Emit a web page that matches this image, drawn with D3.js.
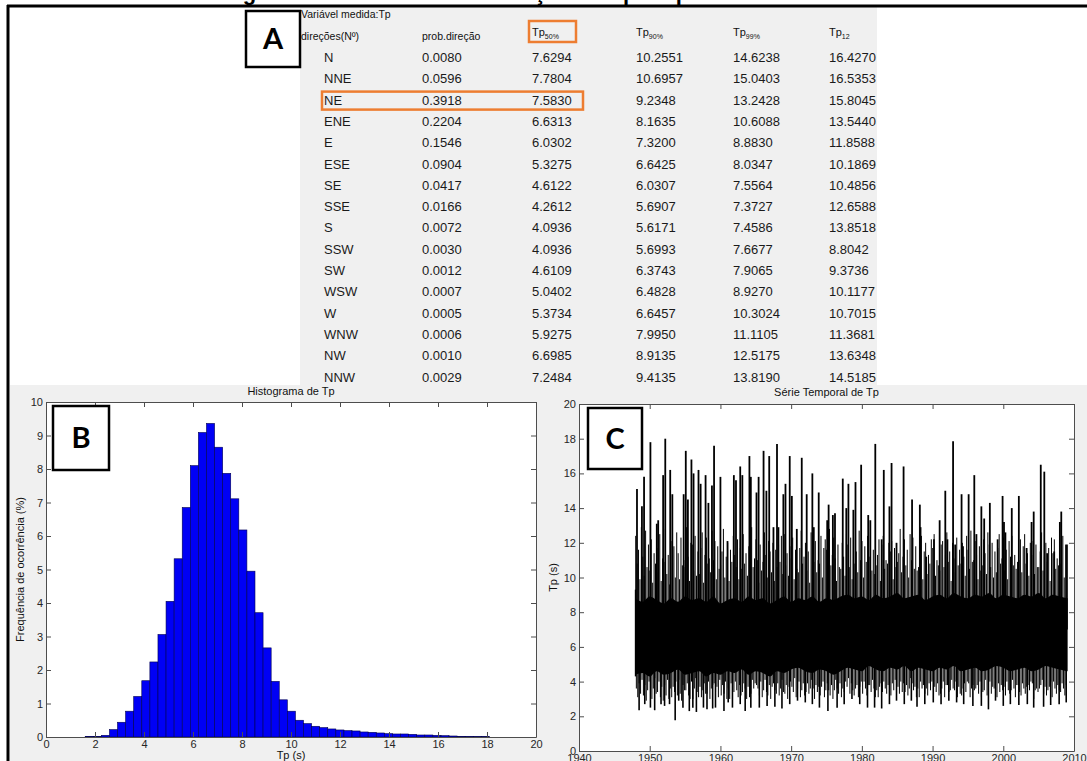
<!DOCTYPE html>
<html><head><meta charset="utf-8">
<script src="https://cdn.jsdelivr.net/npm/d3@7"></script>
<style>
body{margin:0;background:#fff;}
svg{display:block;font-family:"Liberation Sans",Arial,sans-serif;}
</style>
</head><body>
<svg id="fig" width="1087" height="761"></svg>
<script>
// ---------------- DATA ----------------
const directions = ["N","NNE","NE","ENE","E","ESE","SE","SSE","S","SSW","SW","WSW","W","WNW","NW","NNW"];
const probDirecao = [0.0080,0.0596,0.3918,0.2204,0.1546,0.0904,0.0417,0.0166,0.0072,0.0030,0.0012,0.0007,0.0005,0.0006,0.0010,0.0029];
const tp50 = [7.6294,7.7804,7.5830,6.6313,6.0302,5.3275,4.6122,4.2612,4.0936,4.0936,4.6109,5.0402,5.3734,5.9275,6.6985,7.2484];
const tp90 = [10.2551,10.6957,9.2348,8.1635,7.3200,6.6425,6.0307,5.6907,5.6171,5.6993,6.3743,6.4828,6.6457,7.9950,8.9135,9.4135];
const tp99 = [14.6238,15.0403,13.2428,10.6088,8.8830,8.0347,7.5564,7.3727,7.4586,7.6677,7.9065,8.9270,10.3024,11.1105,12.5175,13.8190];
const tp12 = [16.4270,16.5353,15.8045,13.5440,11.8588,10.1869,10.4856,12.6588,13.8518,8.8042,9.3736,10.1177,10.7015,11.3681,13.6348,14.5185];
const tableHeaders = ["direções(Nº)","prob.direção","50%","90%","99%","12"];

// histogram (Tp bins, frequency %)
const histStart = 1.6, histBinWidth = 0.33;
const histFreq = [0.02,0.02,0.05,0.22,0.44,0.77,1.21,1.68,2.24,3.06,4.05,5.32,6.85,8.10,9.09,9.36,8.65,7.87,7.11,6.18,
  4.95,3.71,2.66,1.66,1.11,0.77,0.50,0.40,0.32,0.28,0.24,0.21,0.19,0.18,0.15,0.14,0.12,0.10,0.09,0.09,
  0.08,0.06,0.06,0.05,0.04,0.03,0.02,0.015,0.01,0.01];
const histXTicks = [0,2,4,6,8,10,12,14,16,18,20];
const histYTicks = [0,1,2,3,4,5,6,7,8,9,10];

// time series: tall spikes (year, Tp)
const peakYears = [1948.2,1948.9,1949.2,1950.1,1951.0,1951.2,1951.9,1952.2,1952.9,1953.2,1954.8,1955.1,1955.4,1955.9,1956.2,1956.9,1957.2,1957.9,1958.3,1958.8,
  1959.1,1960.0,1961.0,1961.9,1962.2,1962.8,1963.1,1964.1,1964.3,1965.1,1965.4,1966.1,1966.5,1966.9,1967.5,1968.0,1968.2,1968.9,1969.2,1969.8,
  1970.1,1970.8,1971.5,1972.2,1973.0,1973.2,1973.9,1975.1,1975.3,1975.9,1976.2,1977.3,1977.8,1978.1,1978.8,1979.1,1979.9,1980.9,1981.2,1981.9,
  1982.8,1983.1,1983.9,1984.2,1984.9,1985.9,1987.1,1988.2,1988.3,1989.1,1990.2,1991.0,1991.8,1992.1,1992.9,1993.2,1994.1,1994.3,1995.1,1995.9,
  1996.2,1996.9,1997.3,1998.1,1999.2,1999.9,2000.1,2000.3,2001.2,2002.2,2003.3,2004.0,2004.3,2005.3,2005.8,2006.2,2007.2,2008.0,2008.2,2009.0];
const peakValues = [15.1,14.1,15.8,17.8,13.1,13.3,15.9,18.0,16.2,14.8,14.8,17.3,14.5,16.8,16.0,16.2,15.4,15.9,14.3,15.3,
  17.6,15.8,12.1,15.9,15.6,16.4,15.9,17.0,15.8,14.9,15.8,17.3,15.0,17.0,12.9,17.7,12.9,14.8,15.4,17.0,
  14.7,12.8,16.9,14.8,16.0,12.9,14.9,13.3,14.2,13.6,13.7,15.7,14.0,15.4,13.9,15.5,16.5,13.6,13.3,17.7,
  12.2,16.2,14.1,16.6,12.0,16.4,14.5,14.2,12.9,11.2,12.2,13.3,15.0,12.2,17.85,11.9,14.8,11.8,14.8,15.9,
  12.5,14.1,13.4,14.3,12.2,14.7,13.2,12.6,14.0,14.7,11.7,13.2,13.8,16.5,16.1,11.4,11.5,13.2,13.8,11.9];

// deep minima (year, Tp)
const troughYears = [1948.5,1949.3,1950.1,1950.7,1951.6,1952.1,1952.8,1953.6,1954.1,1954.7,1955.6,1956.1,1956.6,1957.6,1958.1,1958.9,1959.3,1960.5,1961.1,1961.7,
  1962.8,1963.5,1964.3,1965.5,1966.6,1967.7,1968.7,1969.8,1970.9,1972.0,1973.0,1974.0,1975.2,1976.5,1977.5,1978.6,1979.7,1980.8,1981.8,1982.8,
  1983.9,1984.9,1986.0,1987.0,1987.8,1988.9,1990.1,1991.2,1992.3,1993.4,1994.4,1995.7,1996.9,1997.9,1998.9,2000.0,2001.0,2002.2,2003.4,2004.3,
  2005.7,2006.7,2007.9,2008.9];
const troughValues = [2.35,2.7,2.5,2.35,2.7,2.6,2.7,1.77,2.9,2.5,2.3,2.5,2.25,2.5,2.4,2.45,2.5,2.3,2.8,2.5,
  2.7,2.3,2.5,2.5,2.6,2.55,2.45,2.7,2.9,2.8,2.7,2.5,2.3,2.5,2.7,3.0,2.7,2.5,2.5,2.45,
  2.7,2.9,2.7,2.9,2.55,2.7,2.8,2.7,2.9,2.8,2.7,2.6,2.6,2.4,2.9,2.6,2.7,2.65,2.7,2.5,
  2.55,2.65,2.7,2.8];

// secondary maxima, five per year 1948-2008
const secondaryHighs = `12.4 10.8 11.6 9.9 12.9 11.2 10.1 12.7 10.6 11.9 10.4 12.2 9.7 11.4 10.8 11.7 10.3 12.5 9.8 11.1
10.9 12.8 10.2 11.3 9.6 12.1 10.5 11.8 10.0 12.6 11.4 9.9 12.3 10.7 11.0 10.6 12.9 11.2 9.8 12.0
11.9 10.4 12.4 10.1 11.5 10.2 11.7 12.6 9.7 11.3 12.3 10.8 11.1 10.3 12.7 11.0 12.1 9.9 11.8 10.5
10.7 11.5 12.8 10.0 11.2 12.0 9.8 11.6 10.9 12.4 11.3 10.6 12.2 9.9 11.7 10.5 12.5 10.8 11.4 10.1
11.8 10.2 12.9 10.6 11.1 12.2 11.0 9.7 11.9 10.4 10.9 12.6 11.3 10.0 12.1 11.5 10.3 12.0 9.8 11.6
10.6 11.9 10.9 12.4 10.2 12.5 10.7 11.4 10.1 11.8 11.1 12.3 9.9 11.6 10.5 10.3 11.7 12.7 10.8 11.2
12.0 10.4 11.5 9.7 12.6 11.4 10.9 12.1 10.3 11.0 10.8 12.4 10.0 11.7 12.2 11.6 10.2 12.8 10.7 11.3
12.3 11.1 9.8 11.9 10.6 10.5 12.0 11.2 10.1 12.5 11.9 10.6 12.3 9.9 11.4 10.8 11.5 10.3 12.7 11.0
12.1 10.0 11.8 10.9 12.4 11.2 12.6 10.4 11.6 10.2 10.7 11.3 12.2 9.8 11.9 12.4 10.5 11.0 10.8 12.0
11.5 12.1 9.9 11.7 10.6 10.9 11.4 12.8 10.3 11.2 12.2 10.7 11.6 10.0 12.5 11.0 12.3 10.5 11.8 10.4
10.6 11.1 12.4 9.9 11.5 12.0 10.2 11.3 10.8 12.2 11.7 12.5 10.1 11.0 10.7 10.4 11.9 12.1 10.6 11.3
12.6 10.9 11.5 9.8 12.0 11.1 10.3 12.3 10.7 11.6 10.8 12.0 11.2 10.1 12.4 11.6 10.5 12.7 10.9 11.0
12.1 11.3 9.9 11.8 10.4 10.7 12.2 11.4 10.2 12.6 11.9 10.6 12.0 10.0 11.5 10.3 11.7 12.5 10.8 11.1
12.3 10.4 11.6 9.9 12.1 11.2 12.4 10.7 11.3 10.5 10.9 11.0 12.2 10.3 11.8 12.5 10.8 11.4 10.1 12.0
11.3 12.1 10.2 11.9 10.6 10.6 11.5 12.6 10.4 11.2 12.0 10.9 11.7 9.8 12.3 11.4 12.2 10.5 11.1 10.7
10.8 11.6 12.4 10.0 11.9`.trim().split(/\s+/).map(Number);

// secondary minima, five per year 1948-2008
const secondaryLows = `3.6 3.1 3.9 3.3 4.1 3.2 3.8 2.9 3.5 4.0 3.9 3.0 3.6 4.2 3.3 3.4 4.0 3.1 3.7 2.9
3.8 3.2 4.1 3.0 3.6 3.1 3.7 3.4 4.0 3.2 4.1 3.3 2.9 3.8 3.5 3.5 3.9 3.2 3.0 4.0
3.0 3.6 4.2 3.4 3.1 3.7 3.1 3.5 3.9 3.3 3.3 4.0 3.0 3.6 3.8 3.9 3.4 3.7 3.1 4.1
3.2 3.8 3.3 4.0 3.0 3.6 3.0 3.9 3.5 3.4 4.0 3.5 3.1 3.8 3.2 3.4 3.9 3.6 3.0 3.7
3.1 3.3 4.1 3.6 3.9 3.8 3.6 3.2 4.0 3.1 3.5 4.1 3.4 3.2 3.8 3.0 3.7 3.9 3.5 3.3
3.9 3.2 3.6 4.1 3.4 3.3 3.8 3.0 3.7 4.0 3.7 3.4 4.2 3.1 3.6 4.0 3.1 3.5 3.9 3.2
3.4 3.9 3.3 3.6 4.1 3.6 3.0 3.8 3.4 3.7 3.2 3.7 4.0 3.1 3.5 3.9 3.5 3.2 3.8 3.0
3.5 4.1 3.6 3.3 3.9 3.1 3.6 3.4 4.0 3.7 4.2 3.3 3.9 3.5 3.2 3.6 3.8 3.1 3.7 4.0
3.3 4.0 3.6 3.2 3.8 3.8 3.4 4.1 3.6 3.1 3.5 3.1 3.7 3.9 3.4 4.0 3.6 3.3 3.8 3.5
3.2 3.9 3.5 4.1 3.7 3.7 3.3 4.0 3.4 3.9 3.4 3.8 3.2 3.6 4.2 3.9 3.5 3.7 3.1 3.6
3.1 4.0 3.6 3.8 3.3 3.6 3.2 3.9 3.5 4.0 4.1 3.7 3.4 3.9 3.2 3.3 3.6 4.0 3.1 3.8
3.8 3.4 3.5 4.1 3.6 3.5 4.0 3.1 3.7 3.3 3.2 3.6 3.9 3.4 4.0 3.9 3.1 3.6 3.8 3.5
3.6 3.8 3.3 4.0 3.1 3.4 3.5 4.1 3.2 3.7 4.0 3.3 3.7 3.6 3.9 3.1 3.9 3.4 3.8 3.5
3.7 3.2 4.0 3.5 3.3 3.5 4.1 3.6 3.1 3.8 3.8 3.4 3.2 3.9 3.6 3.3 3.7 3.8 3.5 4.0
3.9 3.0 3.5 3.6 3.4 3.6 3.8 4.1 3.3 3.7 3.2 3.5 3.7 4.0 3.1 4.0 3.6 3.3 3.8 3.5
3.4 3.9 3.6 3.2 3.8`.trim().split(/\s+/).map(Number);

// dense core of the series (per year 1948-2009): lower and upper edge
const coreLow = [4.4,4.5,4.3,4.6,4.4,4.5,4.7,4.4,4.5,4.6,4.3,4.5,4.4,4.6,4.5,4.7,4.4,4.6,4.5,4.3,4.6,4.5,4.7,4.8,4.6,4.5,4.7,4.6,4.4,4.6,4.8,4.7,4.6,4.9,4.7,4.6,4.8,4.7,4.9,4.6,4.8,4.7,4.6,4.8,4.7,4.9,4.6,4.7,4.8,4.6,4.7,4.9,4.8,4.6,4.7,4.8,4.6,4.7,4.9,4.8,4.7,4.6];
const coreHigh = [8.8,8.6,8.9,8.7,8.5,8.8,8.6,8.9,8.7,8.8,8.6,8.9,8.5,8.7,8.8,8.6,8.9,8.7,8.8,8.5,8.7,8.9,8.6,8.8,8.7,8.9,8.6,8.8,8.7,8.9,9.0,8.8,8.9,8.7,9.0,8.8,8.9,9.1,8.8,8.9,9.0,8.7,8.9,9.0,8.8,9.1,8.9,8.8,9.0,8.9,9.1,8.8,9.0,8.9,8.8,9.0,8.9,9.1,8.8,9.0,8.9,8.8];
const seriesStart = 1948.0, seriesEnd = 2009.1;
const tsXTicks = [1940,1950,1960,1970,1980,1990,2000,2010];
const tsYTicks = [0,2,4,6,8,10,12,14,16,18,20];

// ---------------- DRAW ----------------
const svg = d3.select("#fig");
const FIGBG = "#f0f0f0", ORANGE = "#ed7d31", AXC = "#4d4d4d", TXT = "#262626";

// backgrounds
svg.append("rect").attr("x",0).attr("y",0).attr("width",1087).attr("height",761).attr("fill","#fff");
svg.append("rect").attr("x",300).attr("y",7).attr("width",577).attr("height",378).attr("fill",FIGBG);
svg.append("rect").attr("x",10).attr("y",385).attr("width",1077).attr("height",376).attr("fill",FIGBG);

// page title, cut off at the top edge: only its descenders show above the rule
svg.append("defs").append("clipPath").attr("id","topclip").append("rect").attr("x",0).attr("y",0).attr("width",1087).attr("height",5);
svg.append("text").attr("clip-path","url(#topclip)").attr("x",480).attr("y",-0.5)
  .attr("text-anchor","middle").attr("font-size",22).attr("font-weight","bold").attr("fill","#000")
  .text("Figura 3 – Estatísticas da direção de Tp no ponto");

// frame rules
svg.append("line").attr("x1",7).attr("x2",1087).attr("y1",6).attr("y2",6).attr("stroke","#000").attr("stroke-width",3);
svg.append("line").attr("x1",8).attr("x2",8).attr("y1",5).attr("y2",761).attr("stroke","#000").attr("stroke-width",3);

// ---------- Panel A: table ----------
const colX = d3.scaleOrdinal().domain(["dir","prob","p50","p90","p99","p12"]).range([324,422,532,636,733,829]);
const rowY = d3.scalePoint().domain(directions).range([62,381.5]);
const tbl = svg.append("g");
tbl.append("text").attr("x",301).attr("y",18).attr("font-size",10.5).attr("fill","#111").text("Variável medida:Tp");
tbl.append("text").attr("x",301).attr("y",40).attr("font-size",10.5).attr("fill","#111").text(tableHeaders[0]);
tbl.append("text").attr("x",colX("prob")).attr("y",40).attr("font-size",10.5).attr("fill","#111").text(tableHeaders[1]);
["p50","p90","p99","p12"].forEach((k,i)=>{
  const t = tbl.append("text").attr("x",colX(k)).attr("y",36).attr("font-size",11).attr("fill","#111");
  t.append("tspan").text("Tp");
  t.append("tspan").attr("font-size",7).attr("dy",2.5).text(tableHeaders[i+2]);
});
const fmt4 = d3.format(".4f");
directions.forEach((d,i)=>{
  const y = rowY(d);
  const vals = [["dir",d],["prob",fmt4(probDirecao[i])],["p50",fmt4(tp50[i])],["p90",fmt4(tp90[i])],["p99",fmt4(tp99[i])],["p12",fmt4(tp12[i])]];
  vals.forEach(([k,v])=>{
    tbl.append("text").attr("x",colX(k)).attr("y",y).attr("font-size",13).attr("fill","#1a1a1a").text(v);
  });
});
// highlight boxes
tbl.append("rect").attr("x",529).attr("y",21).attr("width",47).attr("height",21)
  .attr("fill","none").attr("stroke",ORANGE).attr("stroke-width",2.5);
tbl.append("rect").attr("x",322).attr("y",rowY("NE")-13).attr("width",261).attr("height",18)
  .attr("fill","none").attr("stroke",ORANGE).attr("stroke-width",2.5);

// label boxes
function labelBox(x,y,w,h,t){
  svg.append("rect").attr("x",x).attr("y",y).attr("width",w).attr("height",h)
    .attr("fill","#fff").attr("stroke","#000").attr("stroke-width",2.5);
  svg.append("text").attr("x",x+w/2).attr("y",y+h/2+10).attr("text-anchor","middle")
    .attr("font-family","Lato, 'Open Sans', sans-serif").attr("font-weight","bold").attr("font-size",29).attr("fill","#000").text(t);
}

// MATLAB-like axes
function boxAxes(g, x, y, xt, yt, xPad, yPad){
  const [x0,x1] = x.range(), [y0,y1] = y.range();
  g.append("rect").attr("x",x0).attr("y",y1).attr("width",x1-x0).attr("height",y0-y1).attr("fill","#fff");
  return function(){
    const style = s => { s.selectAll("path").attr("stroke",AXC).attr("stroke-width",1);
      s.selectAll("line").attr("stroke",AXC);
      s.selectAll("text").attr("fill",TXT).attr("font-size",11).attr("font-family","'Liberation Sans',Arial,sans-serif"); };
    g.append("g").attr("transform",`translate(0,${y0})`)
      .call(d3.axisBottom(x).tickValues(xt).tickFormat(d3.format("d")).tickSizeInner(-5).tickSizeOuter(0).tickPadding(xPad)).call(style);
    g.append("g").attr("transform",`translate(0,${y1})`)
      .call(d3.axisTop(x).tickValues(xt).tickFormat("").tickSizeInner(-5).tickSizeOuter(0)).call(style);
    g.append("g").attr("transform",`translate(${x0},0)`)
      .call(d3.axisLeft(y).tickValues(yt).tickFormat(d3.format("d")).tickSizeInner(-5).tickSizeOuter(0).tickPadding(yPad)).call(style);
    g.append("g").attr("transform",`translate(${x1},0)`)
      .call(d3.axisRight(y).tickValues(yt).tickFormat("").tickSizeInner(-5).tickSizeOuter(0)).call(style);
  };
}

// ---------- Panel B: histogram ----------
const hx = d3.scaleLinear().domain([0,20]).range([46,536]);
const hy = d3.scaleLinear().domain([0,10]).range([737,402]);
const gB = svg.append("g");
const finishB = boxAxes(gB, hx, hy, histXTicks, histYTicks, 3, 3);
gB.selectAll("rect.bar").data(histFreq).join("rect").attr("class","bar")
  .attr("x",(d,i)=>hx(histStart+i*histBinWidth))
  .attr("width",(d,i)=>hx(histStart+(i+1)*histBinWidth)-hx(histStart+i*histBinWidth))
  .attr("y",d=>hy(d)).attr("height",d=>hy(0)-hy(d))
  .attr("fill","#0000f5").attr("stroke","#000050").attr("stroke-width",0.6);
finishB();
gB.append("text").attr("x",(hx(0)+hx(20))/2).attr("y",395).attr("text-anchor","middle").attr("font-size",11).attr("fill","#111").text("Histograma de Tp");
gB.append("text").attr("x",(hx(0)+hx(20))/2).attr("y",759).attr("text-anchor","middle").attr("font-size",11).attr("fill","#111").text("Tp (s)");
gB.append("text").attr("transform",`translate(24,${(hy(0)+hy(10))/2}) rotate(-90)`).attr("text-anchor","middle").attr("font-size",11).attr("fill","#111").text("Frequência de ocorrência (%)");

// ---------- Panel C: time series ----------
const tx = d3.scaleLinear().domain([1940,2010]).range([579,1074]);
const ty = d3.scaleLinear().domain([0,20]).range([751,404]);
const gC = svg.append("g");
const finishC = boxAxes(gC, tx, ty, tsXTicks, tsYTicks, 3, 3);
const coreYears = coreLow.map((v,i)=>Math.min(seriesStart+i, seriesEnd));
coreYears[coreYears.length-1] = seriesEnd;
const coreArea = d3.area().x(d=>tx(d.t)).y0(d=>ty(d.lo)).y1(d=>ty(d.hi)).curve(d3.curveMonotoneX);
gC.append("path").datum(coreLow.map((v,i)=>({t:coreYears[i],lo:v,hi:coreHigh[i]})))
  .attr("d",coreArea).attr("fill","#000");
const needles = [];
peakYears.forEach((t,i)=>needles.push({t, base:7, v:peakValues[i], w:1.8}));
troughYears.forEach((t,i)=>needles.push({t, base:6, v:troughValues[i], w:1.6}));
secondaryHighs.forEach((v,i)=>needles.push({t:1948+Math.floor(i/5)+((i%5)+0.1)/5, base:7, v, w:1.0}));
secondaryLows.forEach((v,i)=>needles.push({t:1948+Math.floor(i/5)+((i%5)+0.55)/5, base:6, v, w:1.0}));
gC.selectAll("line.nd").data(needles).join("line").attr("class","nd")
  .attr("x1",d=>tx(d.t)).attr("x2",d=>tx(d.t)).attr("y1",d=>ty(d.base)).attr("y2",d=>ty(d.v))
  .attr("stroke","#000").attr("stroke-width",d=>d.w);
gC.append("line").attr("x1",tx(seriesStart)).attr("x2",tx(seriesStart)).attr("y1",ty(4.3)).attr("y2",ty(9.3)).attr("stroke","#000").attr("stroke-width",1.5);
finishC();
gC.append("text").attr("x",(tx(1940)+tx(2010))/2).attr("y",396).attr("text-anchor","middle").attr("font-size",11).attr("fill","#111").text("Série Temporal de Tp");
gC.append("text").attr("transform",`translate(557,${(ty(0)+ty(20))/2}) rotate(-90)`).attr("text-anchor","middle").attr("font-size",11).attr("fill","#111").text("Tp (s)");

labelBox(246,11,54,56,"A");
labelBox(53,406,56,64,"B");
labelBox(588,408,54,61,"C");
</script>
</body></html>
